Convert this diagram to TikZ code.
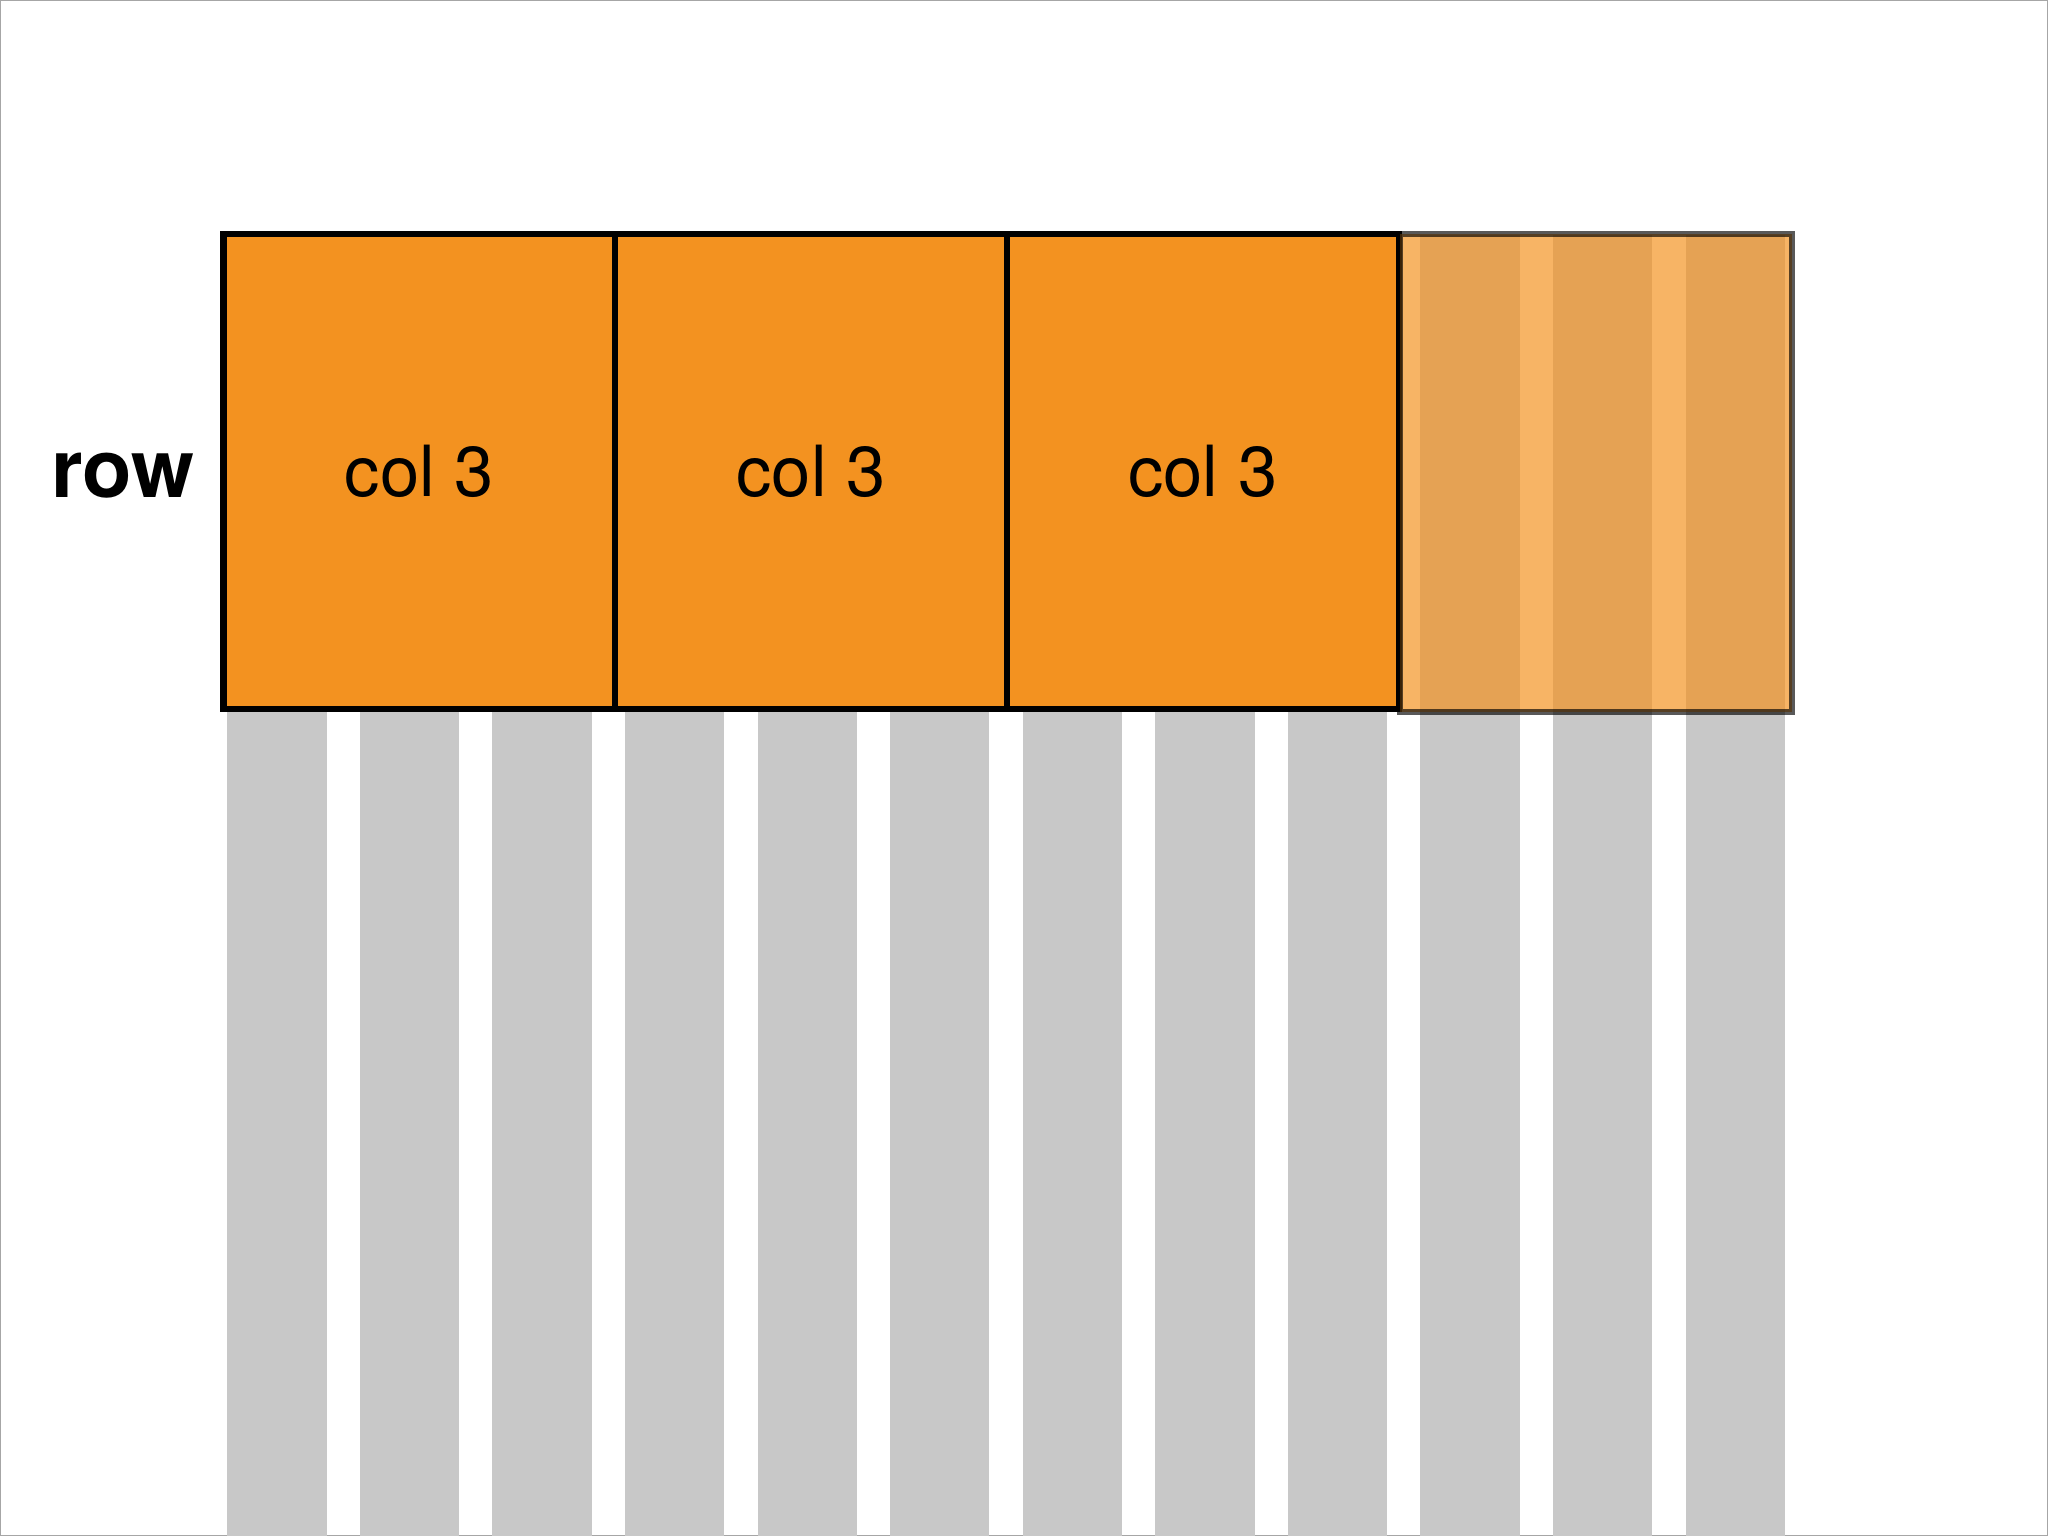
\documentclass[tikz,border=0pt]{standalone}
\usepackage{fontspec}
\setmainfont{TeX Gyre Heros}
\definecolor{og}{HTML}{F39220}
\definecolor{gc}{HTML}{C8C8C8}
\begin{document}
\begin{tikzpicture}[x=0.5pt,y=-0.5pt,
  cell/.style={draw=black,line width=2.5pt,fill=og,minimum width=150pt,minimum height=182pt,inner sep=0pt,font=\fontsize{27}{30}\selectfont},
  ghost/.style={draw=black,draw opacity=0.65,line width=2.5pt,fill=og,fill opacity=0.69,minimum width=150pt,minimum height=183pt,inner sep=0pt}]
\useasboundingbox (0,0) rectangle (1568,1176);
\draw[gray!70,line width=0.5pt] (0.5,0.5) rectangle (1567.5,1175.5);
\foreach \i in {0,...,11}{
  \fill[gc] ({174+\i*101.5},180) rectangle ({250+\i*101.5},1176);
}
\node[cell] (c1) at (321,361) {col 3};
\node[cell] (c2) at (621,361) {col 3};
\node[cell] (c3) at (921,361) {col 3};
\node[ghost] (c4) at (1222,362) {};
\node[font=\bfseries\fontsize{31}{33}\selectfont,anchor=east] (row) at (156,364) {row};
\end{tikzpicture}
\end{document}
